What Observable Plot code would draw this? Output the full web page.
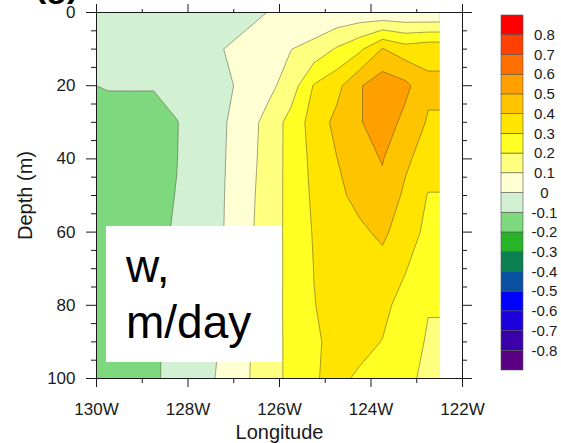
<!DOCTYPE html>
<html>
<head>
<meta charset="utf-8">
<script src="https://cdn.jsdelivr.net/npm/d3@7"></script>
<script src="https://cdn.jsdelivr.net/npm/@observablehq/plot@0.6"></script>
<style>
  body { margin: 0; background: #fff; }
  #wrap { position: relative; width: 561px; height: 443px; overflow: hidden; font-family: "Liberation Sans", Arial, sans-serif; }
  #main { position: absolute; left: 0; top: 0; }
  #bar { position: absolute; left: 497px; top: 5px; }
  #label { position: absolute; left: 106px; top: 226px; width: 176px; height: 136px; background: #fff; }
  #label div { position: absolute; left: 20px; font-size: 46px; line-height: 46px; color: #000; white-space: nowrap; }
  #panel { position: absolute; left: 35px; top: -32px; font-size: 34px; line-height: 34px; font-weight: bold; color: #000; }
</style>
</head>
<body>
<div id="wrap">
  <div id="main"></div>
  <div id="bar"></div>
  <div id="label"><div style="top:17px">w,</div><div style="top:73px">m/day</div></div>
  <div id="panel">(g)</div>
</div>
<script>
// Longitude cell centres (deg, west negative) and depth levels (m)
const lons = [-129.75, -129.25, -128.75, -128.25, -127.75, -127.25, -126.75, -126.25, -125.75, -125.25, -124.75, -124.25, -123.75, -123.25, -122.75];
const depths = [0, 10, 20, 30, 40, 50, 60, 70, 80, 90, 100];

// Vertical velocity w (m/day), one row per depth level, west -> east
const w0   = [-0.05, -0.05, -0.05, -0.05, -0.05, -0.04, -0.03, 0.002, 0.008, 0.01, 0.02, 0.03, 0.015, 0.01, 0.005];
const w10  = [-0.06, -0.06, -0.06, -0.05, -0.03, -0.002, 0.03, 0.065, 0.098, 0.135, 0.21, 0.28, 0.405, 0.345, 0.37];
const w20  = [-0.095, -0.095, -0.095, -0.07, -0.055, -0.034, 0.035, 0.072, 0.148, 0.307, 0.37, 0.491, 0.56, 0.526, 0.42];
const w30  = [-0.13, -0.13, -0.13, -0.103, -0.065, -0.013, 0.052, 0.133, 0.236, 0.341, 0.427, 0.491, 0.56, 0.47, 0.39];
const w40  = [-0.14, -0.14, -0.125, -0.102, -0.057, -0.01, 0.058, 0.138, 0.234, 0.327, 0.398, 0.466, 0.505, 0.42, 0.35];
const w50  = [-0.14, -0.14, -0.12, -0.098, -0.052, -0.007, 0.065, 0.145, 0.231, 0.317, 0.377, 0.43, 0.477, 0.38, 0.295];
const w60  = [-0.14, -0.14, -0.12, -0.092, -0.049, -0.005, 0.071, 0.149, 0.229, 0.307, 0.344, 0.381, 0.42, 0.347, 0.275];
const w70  = [-0.14, -0.14, -0.115, -0.087, -0.043, -0.001, 0.076, 0.151, 0.227, 0.301, 0.325, 0.35, 0.365, 0.305, 0.245];
const w80  = [-0.14, -0.14, -0.115, -0.081, -0.039, 0.003, 0.078, 0.153, 0.227, 0.298, 0.32, 0.335, 0.32, 0.27, 0.205];
const w90  = [-0.14, -0.14, -0.112, -0.076, -0.035, 0.007, 0.082, 0.154, 0.225, 0.292, 0.315, 0.32, 0.298, 0.245, 0.19];
const w100 = [-0.13, -0.13, -0.112, -0.072, -0.032, 0.015, 0.086, 0.156, 0.224, 0.295, 0.315, 0.29, 0.255, 0.22, 0.18];

// Contour levels and colours (band below -0.8 ... band above 0.8)
const levels = [-0.8, -0.7, -0.6, -0.5, -0.4, -0.3, -0.2, -0.1, 0, 0.1, 0.2, 0.3, 0.4, 0.5, 0.6, 0.7, 0.8];
const colors = ["#5a0082", "#3c00aa", "#1e00dc", "#0000ff", "#0a50a0", "#0a8050", "#28b428", "#7ed87e", "#d2f0d2",
                "#ffffd4", "#ffff80", "#ffff24", "#ffe400", "#ffc400", "#ffa000", "#ff7000", "#ff4000", "#ff0000"];

// Axis ticks
const xTicks = [-130, -128, -126, -124, -122];
const xMinor = [-129, -127, -125, -123];
const yTicks = [0, 20, 40, 60, 80, 100];
const yMinor = [5, 10, 15, 25, 30, 35, 45, 50, 55, 65, 70, 75, 85, 90, 95];

const rows = [w0, w10, w20, w30, w40, w50, w60, w70, w80, w90, w100];
const nx = lons.length, ny = depths.length;
const dLon = lons[1] - lons[0], dDep = depths[1] - depths[0];
// d3-contour mis-places crossings on the grid's last column edge, so the
// last column is repeated once (the repeat lies outside the clipped data area)
const grid = rows.flatMap(r => [...r, r[r.length - 1]]);
const dataX1 = lons[0] - dLon / 2, dataX2 = lons[nx - 1] + dLon / 2;
const gridOpts = {
  width: nx + 1, height: ny,
  x1: dataX1, x2: dataX2 + dLon,
  y1: depths[0] - dDep / 2, y2: depths[ny - 1] + dDep / 2,
  thresholds: levels
};

const colorScale = {type: "threshold", domain: levels, range: colors};
const font = "'Liberation Sans', Arial, Helvetica, sans-serif";
const fmtLon = d => `${-d}W`;
const blank = () => "";

const chart = Plot.plot({
  width: 561, height: 443,
  marginLeft: 96, marginRight: 99, marginTop: 12, marginBottom: 65,
  x: {domain: [-130, -122]},
  y: {domain: [0, 100], reverse: true},
  color: colorScale,
  style: {fontFamily: font, background: "transparent", color: "#1a1a1a"},
  marks: [
    Plot.contour(grid, {...gridOpts, fill: Plot.identity, stroke: "none"}),
    Plot.contour(grid, {...gridOpts, value: Plot.identity, fill: "none", stroke: "#3a3a2a", strokeOpacity: 0.5, strokeWidth: 0.9}),
    Plot.frame({stroke: "#1a1a1a", strokeWidth: 1}),
    Plot.axisY({anchor: "left", ticks: yTicks, tickSize: 10, tickPadding: 11, fontSize: 17, tickFormat: d => String(d), label: null}),
    Plot.axisY({anchor: "left", ticks: yMinor, tickSize: 5, tickFormat: blank, label: null}),
    Plot.axisY({anchor: "right", ticks: yTicks, tickSize: 9, tickFormat: blank, label: null}),
    Plot.axisY({anchor: "right", ticks: yMinor, tickSize: 4, tickFormat: blank, label: null}),
    Plot.axisX({anchor: "bottom", ticks: xTicks, tickSize: 9, tickPadding: 15, fontSize: 17, tickFormat: fmtLon, label: null}),
    Plot.axisX({anchor: "bottom", ticks: xMinor, tickSize: 5, tickFormat: blank, label: null}),
    Plot.axisX({anchor: "top", ticks: xTicks, tickSize: 9, tickFormat: blank, label: null}),
    Plot.axisX({anchor: "top", ticks: xMinor, tickSize: 4, tickFormat: blank, label: null}),
    Plot.text(["Depth (m)"], {frameAnchor: "left", dx: -71, rotate: -90, textAnchor: "middle", lineAnchor: "middle", fontSize: 20, fill: "#1a1a1a"}),
    Plot.text(["Longitude"], {frameAnchor: "bottom", dy: 54, textAnchor: "middle", lineAnchor: "middle", fontSize: 20, fill: "#1a1a1a"})
  ]
});
document.getElementById("main").appendChild(chart);

// clip the contour marks to the data rectangle (hides the polygons' outer outline)
(function clipContours() {
  const ns = "http://www.w3.org/2000/svg";
  const sx = chart.scale("x"), sy = chart.scale("y");
  const xa = sx.apply(dataX1), xb = sx.apply(dataX2);
  const ya = sy.apply(0), yb = sy.apply(100);
  const defs = document.createElementNS(ns, "defs");
  const mk = (id, inset) => {
    const cp = document.createElementNS(ns, "clipPath");
    cp.setAttribute("id", id);
    const r = document.createElementNS(ns, "rect");
    r.setAttribute("x", Math.min(xa, xb) + inset);
    r.setAttribute("y", Math.min(ya, yb));
    r.setAttribute("width", Math.abs(xb - xa) - inset);
    r.setAttribute("height", Math.abs(yb - ya));
    cp.appendChild(r);
    defs.appendChild(cp);
  };
  mk("clipFill", 0);
  mk("clipLine", 0.7);
  chart.insertBefore(defs, chart.firstChild);
  const gs = chart.querySelectorAll('g[aria-label="contour"]');
  if (gs[0]) gs[0].setAttribute("clip-path", "url(#clipFill)");
  if (gs[1]) gs[1].setAttribute("clip-path", "url(#clipLine)");
})();

// Colour bar
const bands = colors.map((c, i) => ({
  lo: i === 0 ? levels[0] - 0.1 : levels[i - 1],
  hi: i === colors.length - 1 ? levels[levels.length - 1] + 0.1 : levels[i]
}));
const bar = Plot.plot({
  width: 64, height: 375,
  marginLeft: 4, marginRight: 38, marginTop: 10, marginBottom: 10,
  x: {domain: [0, 1], axis: null},
  y: {domain: [levels[0] - 0.1, levels[levels.length - 1] + 0.1], axis: null},
  color: colorScale,
  style: {fontFamily: font, background: "transparent", color: "#1a1a1a"},
  marks: [
    Plot.rect(bands, {x1: 0, x2: 1, y1: "lo", y2: "hi", fill: "lo", stroke: "#555", strokeWidth: 0.6}),
    Plot.text(levels, {x: 1, y: d => d, dx: 21, text: d => String(d), textAnchor: "middle", fontSize: 15, fill: "#1a1a1a"})
  ]
});
document.getElementById("bar").appendChild(bar);
</script>
</body>
</html>
